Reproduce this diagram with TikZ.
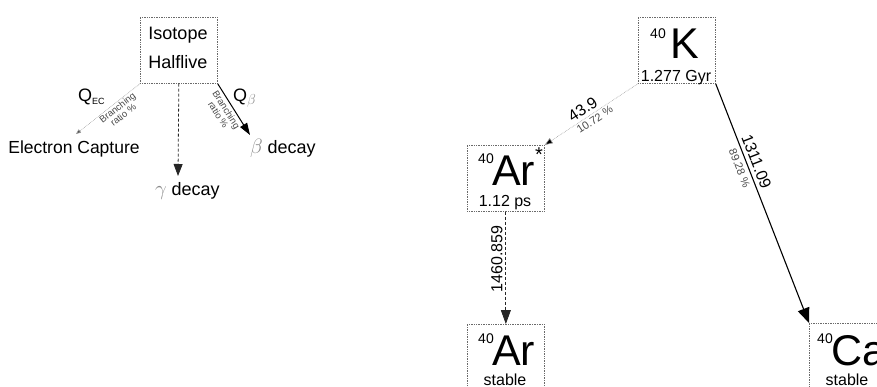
\documentclass[tikz,border=0pt]{standalone}
\usepackage{fontspec}
\setmainfont{Liberation Sans}
\usetikzlibrary{arrows.meta}
\newcommand\pxf[1]{\fontsize{#1}{#1}\selectfont}
\definecolor{boxgray}{HTML}{6A6A6A}
\definecolor{lightline}{HTML}{9A9A9A}
\definecolor{symgray}{HTML}{8A8A8A}
\definecolor{labgray}{HTML}{4A4A4A}
\begin{document}
\begin{tikzpicture}[x=1pt,y=-1pt,
  isobox/.style={draw=boxgray, densely dotted, line width=0.7pt, minimum width=77pt, minimum height=66pt, inner sep=0pt, anchor=north west},
  txt/.style={inner sep=0pt, outer sep=0pt, text=black},
  big/.style={txt, font=\pxf{43}},
  mass/.style={txt, font=\pxf{14}},
  life/.style={txt, font=\pxf{16}},
  energy/.style={inner sep=3pt, font=\pxf{16}, text=black, sloped},
  ratio/.style={inner sep=2pt, font=\pxf{11}, text=labgray, sloped},
  branch/.style={inner sep=1pt, font=\pxf{9.5}, text=labgray, align=center, sloped},
  ecarrow/.style={draw=lightline, densely dotted, line width=0.6pt, -{Triangle[length=5pt,width=4pt,fill=labgray]}},
  gamarrow/.style={draw=black!85, densely dashed, line width=0.8pt, -{Triangle[length=12pt,width=9pt]}},
  betarrow/.style={draw=black, line width=1pt, -{Triangle[length=12pt,width=8pt]}},
  kararrow/.style={draw=lightline, densely dotted, line width=0.6pt, -{Triangle[length=8pt,width=6pt,fill=black]}},
  kcaarrow/.style={draw=black, line width=1.1pt, -{Triangle[length=15pt,width=12pt]}},
  ararrow/.style={draw=black!85, densely dashed, line width=0.8pt, -{Triangle[length=14pt,width=10pt]}}
]
\useasboundingbox (0,0) rectangle (877,386);
\clip (0,0) rectangle (877,386);

% ---------------- legend ----------------
\node[isobox] (leg) at (140,17) {};
\node[txt, anchor=base, font=\pxf{18}] (legiso) at (178,39) {Isotope};
\node[txt, anchor=base, font=\pxf{18}] (leghl) at (178,68) {Halflive};

\node[txt, anchor=base, font=\pxf{17.5}] (ectext) at (74,153) {Electron Capture};
\node[txt, anchor=base west, font=\pxf{18}] (qec) at (78,101) {Q\raisebox{-3pt}{\pxf{9}EC}};
\coordinate (ecend) at (76,134);
\draw[ecarrow] (leg.south west) -- node[branch, below, pos=0.4] (ecbr) {Branching\\ratio \%} (ecend);

\node[txt, anchor=base west, font=\pxf{18}] (gamtext) at (155,195) {\textcolor{symgray}{\pxf{21}$\gamma$} decay};
\coordinate (gamend) at (178,176);
\draw[gamarrow] (leg.south) -- (gamend);

\node[txt, anchor=base west, font=\pxf{18}] (bettext) at (250,153) {\textcolor{symgray}{\pxf{21}$\beta$} decay};
\node[txt, anchor=base west, font=\pxf{18}] (qbeta) at (233,101) {Q\raisebox{-3pt}{\pxf{15}\textcolor{symgray}{$\beta$}}};
\coordinate (betend) at (250,135);
\draw[betarrow] (leg.south east) -- node[branch, below, pos=0.44, inner sep=2.5pt] (betbr) {Branching\\ratio \%} (betend);

% ---------------- K-40 scheme ----------------
\node[isobox] (K) at (638,17) {};
\node[mass] (K40) at (658,34) {40};
\node[big, anchor=base west] (Ksym) at (670,58) {K};
\node[life, anchor=base] (Khl) at (676,81) {1.277 Gyr};

\node[isobox] (Arx) at (467,145) {};
\node[mass] (Arx40) at (486,159) {40};
\node[big, anchor=base west] (Arxsym) at (492,185) {Ar};
\node[txt, font=\pxf{20}] (Arxstar) at (539,155) {*};
\node[life, anchor=base] (Arxhl) at (505,206) {1.12 ps};

\node[isobox] (Ar) at (467,324) {};
\node[mass] (Ar40) at (486,339) {40};
\node[big, anchor=base west] (Arsym) at (492,365) {Ar};
\node[life, anchor=base] (Arst) at (505,385) {stable};

\node[isobox] (Ca) at (809,323) {};
\node[mass] (Ca40) at (825,339) {40};
\node[big, anchor=base west] (Casym) at (831,365) {Ca};
\node[life, anchor=base] (Cast) at (847,385) {stable};

\draw[kararrow] (K.south west) --
  node[energy, above, pos=0.54] (e439) {43.9}
  node[ratio, below, pos=0.50] (r1072) {10.72 \%} (Arx.north east);
\draw[kcaarrow] (K.south east) --
  node[energy, above, pos=0.34, inner sep=3.5pt] (e1311) {1311.09}
  node[ratio, below, pos=0.34, inner sep=4pt] (r8928) {89.28 \%} (Ca.north west);
\draw[ararrow] (Arx.south) --
  node[pos=0.42, anchor=south, rotate=90, inner sep=3pt, font=\pxf{16}] (e1460) {1460.859} (Ar.north);
\end{tikzpicture}
\end{document}
